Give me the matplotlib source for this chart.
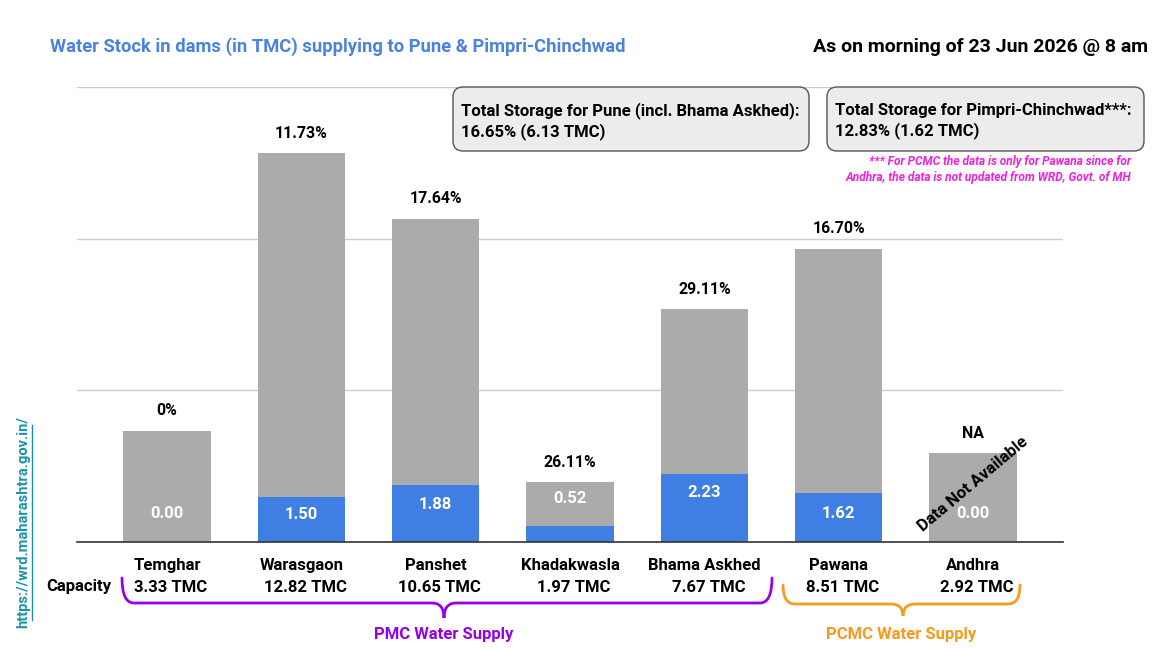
import matplotlib
matplotlib.use("Agg")
import matplotlib.pyplot as plt
from matplotlib.path import Path
from matplotlib.patches import PathPatch, FancyBboxPatch

plt.rcParams['font.family'] = ['Roboto', 'DejaVu Sans']

dams = ["Temghar", "Warasgaon", "Panshet", "Khadakwasla", "Bhama Askhed", "Pawana", "Andhra"]
capacity_tmc = [3.33, 12.82, 10.65, 1.97, 7.67, 8.51, 2.92]
bar_total = [3.66, 12.82, 10.65, 1.97, 7.67, 9.66, 2.92]
stored_tmc = [0.00, 1.50, 1.88, 0.52, 2.23, 1.62, 0.00]
pct_labels = ["0%", "11.73%", "17.64%", "26.11%", "29.11%", "16.70%", "NA"]
label_y = [0.95, 0.92, 1.25, 1.45, 1.62, 0.95, 0.95]

GRAY = "#ababab"
BLUE = "#3f7fe4"
FS = 12.0

W, H = 1158, 649
fig = plt.figure(figsize=(W / 100, H / 100), dpi=100)
ax = fig.add_axes([77 / W, 1 - 542 / H, 986 / W, 455 / H])

x = list(range(len(dams)))
ax.bar(x, bar_total, width=0.65, color=GRAY, zorder=2)
ax.bar(x, stored_tmc, width=0.65, color=BLUE, zorder=3)
ax.set_xlim(-0.67, 6.67)
ax.set_ylim(0, 15)
ax.set_yticks([0, 5, 10, 15])
ax.yaxis.grid(True, color="#cccccc", lw=1, zorder=0)
ax.tick_params(left=False, bottom=False, labelleft=False, labelbottom=False)
for s in ["left", "right", "top"]:
    ax.spines[s].set_visible(False)
ax.spines["bottom"].set_color("#333333")
ax.spines["bottom"].set_linewidth(1.2)
ax.spines["bottom"].set_zorder(5)

for i in x:
    ax.text(i, bar_total[i] + 0.66, pct_labels[i], ha="center", va="center",
            fontsize=11.4, fontweight="bold", color="black")
    ax.text(i, label_y[i], f"{stored_tmc[i]:.2f}", ha="center", va="center",
            fontsize=FS, fontweight="bold", color="white", zorder=6)
    ax.text(i, -0.77, dams[i], ha="center", va="center", fontsize=FS,
            fontweight="bold", clip_on=False)
    ax.text(i + 0.03, -1.50, f"{capacity_tmc[i]:.2f} TMC", ha="center", va="center",
            fontsize=FS, fontweight="bold", clip_on=False)

ax.text(6, 1.9, "Data Not Available", rotation=40, ha="center", va="center",
        fontsize=FS, fontweight="bold", color="black", zorder=7,
        rotation_mode="anchor")

# overlay in pixel coordinates
ov = fig.add_axes([0, 0, 1, 1], zorder=10)
ov.set_xlim(0, W)
ov.set_ylim(H, 0)
ov.axis("off")
ov.patch.set_alpha(0)

ov.text(50, 47, "Water Stock in dams (in TMC) supplying to Pune & Pimpri-Chinchwad",
        color="#4a82e0", fontsize=13.2, fontweight="bold", va="center", ha="left")
ov.text(1148, 47, "As on morning of 23 Jun 2026 @ 8 am", color="black",
        fontsize=14.0, fontweight="bold", va="center", ha="right")

for (x0, x1, t) in [(453, 809, "Total Storage for Pune (incl. Bhama Askhed):\n16.65% (6.13 TMC)"),
                    (827, 1144, "Total Storage for Pimpri-Chinchwad***:\n12.83% (1.62 TMC)")]:
    box = FancyBboxPatch((x0, 87), x1 - x0, 64, boxstyle="round,pad=0,rounding_size=10",
                         fc="#ececec", ec="#555555", lw=1.0)
    ov.add_patch(box)
    ov.text(x0 + 8, 121, t, fontsize=FS, fontweight="bold", va="center", ha="left",
            linespacing=1.3)

ov.text(1131, 169, "*** For PCMC the data is only for Pawana since for\nAndhra, the data is not updated from WRD, Govt. of MH",
        color="#ee22dd", fontsize=8.6, fontweight="bold", style="italic", ha="right", va="center",
        linespacing=1.3)

ov.text(79, 587, "Capacity", fontsize=FS, fontweight="bold", ha="center", va="center")

ov.text(23, 522, "https://wrd.maharashtra.gov.in/", rotation=90, color="#1a93a8",
        fontsize=10.5, fontweight="bold", ha="center", va="center")
ov.plot([31.5, 31.5], [425, 620], color="#1a93a8", lw=1)


def brace(x0, x1, xm, ytip, yline, ydip, color):
    r = 12
    verts = [(x0, ytip), (x0, yline), (x0 + r, yline),
             (xm - r, yline), (xm, yline), (xm, ydip),
             (xm, yline), (xm + r, yline),
             (x1 - r, yline), (x1, yline), (x1, ytip)]
    codes = [Path.MOVETO, Path.CURVE3, Path.CURVE3,
             Path.LINETO, Path.CURVE3, Path.CURVE3,
             Path.CURVE3, Path.CURVE3,
             Path.LINETO, Path.CURVE3, Path.CURVE3]
    ov.add_patch(PathPatch(Path(verts, codes), fc="none", ec=color, lw=2, capstyle="round"))


brace(122, 772, 444, 578, 603, 618, "#9500e8")
brace(783, 1020, 903, 585, 604, 616, "#f79a1e")
ov.text(444, 635, "PMC Water Supply", color="#9500e8", fontsize=FS, fontweight="bold",
        ha="center", va="center")
ov.text(901, 635, "PCMC Water Supply", color="#f79a1e", fontsize=FS, fontweight="bold",
        ha="center", va="center")

fig.savefig("out.png", dpi=100)
